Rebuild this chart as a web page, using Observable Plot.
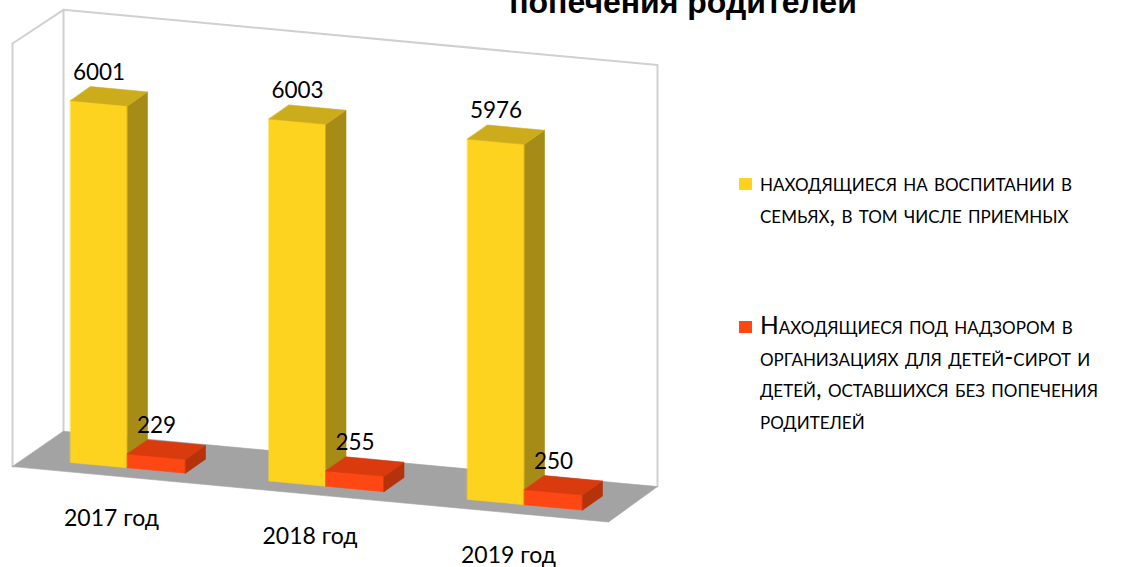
<!DOCTYPE html>
<html>
<head>
<meta charset="utf-8">
<script src="https://cdn.jsdelivr.net/npm/d3@7"></script>
<script src="https://cdn.jsdelivr.net/npm/@observablehq/plot@0.6"></script>
<style>
  html, body { margin: 0; padding: 0; background: #fff; }
  #wrap { position: relative; width: 1125px; height: 567px; overflow: hidden; font-family: Lato, "Noto Sans", sans-serif; }
  #chart { position: absolute; left: 0; top: 0; }
  #title { position: absolute; left: 383px; width: 600px; top: -14px; text-align: center;
           font-family: "Liberation Sans", Arial, sans-serif; font-weight: bold; font-size: 32px; line-height: 32px; color: #000; }
  .legend-item { position: absolute; left: 739px; }
  .legend-item .sw { position: absolute; left: 0; width: 13px; height: 12px; }
  .legend-item .txt { position: absolute; left: 21px; white-space: nowrap; font-family: Lato, "Noto Sans", sans-serif;
           font-size: 24.6px; letter-spacing: 0; line-height: 31.5px; font-variant: small-caps; color: #000; }
</style>
</head>
<body>
<div id="wrap">
  <div id="chart"></div>
  <div id="title">попечения родителей</div>
  <div id="legend"></div>
</div>
<script>
// ---- data ----
const categories = ["2017 год", "2018 год", "2019 год"];
const familyCare = [6001, 6003, 5976];
const institutionCare = [229, 255, 250];
const seriesColors = ["#FDD31F", "#FF4713"];
const seriesTopColors = ["#CDAC1B", "#D93A0E"];
const seriesSideColors = ["#A68B16", "#B5320B"];
const legendLines = [
  ["находящиеся на воспитании в", "семьях, в том числе приемных"],
  ["Находящиеся под надзором в", "организациях для детей-сирот и", "детей, оставшихся без попечения", "родителей"]
];

// ---- layout (pixel frame of the 3D view) ----
const W = 1125, H = 567;
const X0 = 70, SLOT = 198.5;       // left of first bar, px per category slot
const Y0 = 462, VPX = 0.0603;      // baseline px, px per value unit
const K = 0.093;                   // view tilt (px down per px right)
const T = K * SLOT / VPX;
const tilt = x => -T * x;
const barW = [57 / SLOT, 58 / SLOT];
const barOff = [0, 57 / SLOT];
const DX = 20 / SLOT, DV = 15.9 / VPX;
const pxX = p => (p - X0) / SLOT;
const pxV = p => (Y0 - p) / VPX;

const series = [familyCare, institutionCare];

function poly(id, pts) {
  return pts.map(([x, v]) => ({id, x, y: v + tilt(x)}));
}

const fronts = [[], []], sides = [[], []], tops = [[], []], valueLabels = [];
series.forEach((vals, s) => {
  vals.forEach((v, i) => {
    const a = i + barOff[s], b = a + barW[s];
    const id = s + "-" + i;
    fronts[s].push(...poly(id, [[a, 0], [b, 0], [b, v], [a, v]]));
    sides[s].push(...poly(id, [[b, 0], [b + DX, DV], [b + DX, v + DV], [b, v]]));
    tops[s].push(...poly(id, [[a, v], [b, v], [b + DX, v + DV], [a + DX, v + DV]]));
    const xc = a + barW[s] / 2;
    valueLabels.push({x: xc, y: v + DV + tilt(xc), text: String(v)});
  });
});

const catLabels = categories.map((c, i) => {
  const x = i + 0.2065;
  return {x, y: pxV(514) + tilt(x), text: c};
});

// floor and walls
const fL = pxX(12), fR = pxX(608), bL = pxX(63), bR = pxX(657);
const vFront = pxV(471.5), vBack = pxV(431.5), vTop = pxV(10), vLeftTop = pxV(48.4);
const floor = poly("floor", [[fL, vFront], [fR, vFront], [bR, vBack], [bL, vBack]]);
const wallOuter = poly("outer", [[fL, vFront], [fL, vLeftTop], [bL, vTop], [bR, vTop], [bR, vBack]]);
const wallCorner = poly("corner", [[bL, vTop], [bL, vBack]]);

const face = (rows, fill) => Plot.line(rows, {x: "x", y: "y", z: "id", fill, stroke: fill, strokeWidth: 0.6, curve: "linear-closed"});

const marks = [
  Plot.line(wallOuter, {x: "x", y: "y", z: "id", stroke: "#D0D0D0", strokeWidth: 2}),
  Plot.line(wallCorner, {x: "x", y: "y", z: "id", stroke: "#D0D0D0", strokeWidth: 2}),
  face(floor, "#A3A3A3")
];
for (let s = 0; s < 2; s++) {
  marks.push(face(fronts[s], seriesColors[s]));
  marks.push(face(sides[s], seriesSideColors[s]));
  marks.push(face(tops[s], seriesTopColors[s]));
}
marks.push(Plot.text(valueLabels, {x: "x", y: "y", text: "text", dy: -15, fontSize: 22.5, fill: "#000"}));
marks.push(Plot.text(catLabels, {x: "x", y: "y", text: "text", fontSize: 23, fill: "#000"}));

const chart = Plot.plot({
  width: W, height: H,
  marginTop: 0, marginRight: 0, marginBottom: 0, marginLeft: 0,
  style: {fontFamily: "Lato, 'Noto Sans', sans-serif", background: "transparent"},
  x: {axis: null, domain: [pxX(0), pxX(W)], range: [0, W]},
  y: {axis: null, domain: [pxV(H), pxV(0)], range: [H, 0]},
  marks
});
document.getElementById("chart").appendChild(chart);

// legend
const legend = document.getElementById("legend");
const legendTops = [178, 321];
legendLines.forEach((lines, s) => {
  const item = document.createElement("div");
  item.className = "legend-item";
  item.style.top = legendTops[s] + "px";
  const sw = document.createElement("div");
  sw.className = "sw";
  sw.style.background = seriesColors[s];
  item.appendChild(sw);
  const txt = document.createElement("div");
  txt.className = "txt";
  txt.style.top = "-12px";
  lines.forEach((l, j) => {
    if (j) txt.appendChild(document.createElement("br"));
    txt.appendChild(document.createTextNode(l));
  });
  item.appendChild(txt);
  legend.appendChild(item);
});
</script>
</body>
</html>
